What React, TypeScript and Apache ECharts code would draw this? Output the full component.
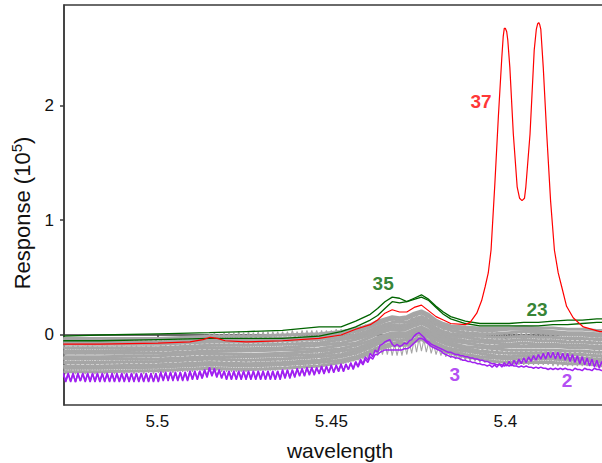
import React, { useEffect, useRef } from "react";
import * as echarts from "echarts";

const W = 602;
const H = 463;

const RED = "#ff0000";
const GREEN = "#006400";
const PURPLE = "#a020f0";
const GRAY = "#a6a6a6";
const AXIS = "#3a3a3a";
const FONT = "'Liberation Sans', Arial, Helvetica, sans-serif";

// all responses below are stored in hundredths of 10^5
const SCALE = 0.01;

// axis ticks
const X_TICKS = [5.5, 5.45, 5.4];
const Y_TICKS = [0, 1, 2];

// wavelengths of the knots used by the smoother traces
const KNOT_WL = [
  5.527, 5.5165, 5.4997, 5.485, 5.4745, 5.464, 5.4535, 5.4472, 5.443, 5.4388,
  5.4367, 5.4346, 5.4325, 5.4304, 5.4283, 5.4262, 5.4241, 5.422, 5.4199, 5.4178,
  5.4157, 5.4115, 5.4073, 5.4031, 5.3989, 5.3947, 5.3905, 5.3863, 5.3821, 5.3779,
  5.3737, 5.3716,
];

// sample 35 and sample 23 (dark green)
const SAMPLE_35 = [
  -1, 0, 1, 2, 3, 4, 7, 7, 12, 18, 23, 29, 33, 32, 29, 32, 35, 31, 25, 20, 16, 12,
  10, 10, 10, 11, 11, 12, 13, 13, 14, 14,
];
const SAMPLE_23 = [
  -5, -5, -4, -3, -3, -3, -1, 3, 7, 13, 17, 23, 29, 28, 29, 31, 33, 30, 24, 18, 14,
  10, 8, 8, 8, 8, 8, 9, 9, 10, 11, 11,
];

// the bulk of the spectra (grey), one row per sample
const GRAY_SPECTRA = [
  [-3, -3, -3, -1, -1, 0, 1, 3, 5, 9, 12, 14, 16, 15, 16, 19, 21, 18, 13, 10, 8, 7, 6, 6, 6, 7, 6, 6, 5, 5, 4, 4],
  [-6, -6, -6, -4, -4, -3, -2, 1, 3, 7, 10, 12, 14, 13, 14, 17, 19, 16, 11, 8, 6, 5, 4, 4, 5, 5, 4, 3, 2, 2, 1, 1],
  [-8, -8, -8, -6, -6, -5, -4, -2, 0, 4, 7, 9, 11, 11, 11, 14, 16, 13, 9, 6, 4, 2, 1, 1, 2, 3, 2, 1, 0, 0, -1, -1],
  [-11, -11, -11, -9, -9, -8, -7, -4, -2, 2, 5, 7, 9, 8, 9, 12, 14, 11, 6, 3, 1, 0, -1, -2, -2, -1, -2, -2, -3, -3, -4, -4],
  [-14, -14, -13, -11, -12, -11, -9, -7, -4, 0, 3, 5, 7, 6, 7, 10, 12, 9, 4, 1, -1, -2, -4, -5, -5, -4, -5, -5, -6, -6, -7, -7],
  [-16, -16, -16, -14, -14, -13, -12, -9, -7, -2, 1, 3, 5, 4, 5, 8, 10, 7, 2, -1, -3, -5, -6, -7, -8, -7, -8, -8, -9, -9, -10, -10],
  [-19, -19, -18, -16, -17, -16, -14, -12, -9, -5, -2, 0, 2, 2, 2, 5, 7, 4, 0, -3, -5, -7, -9, -10, -10, -10, -10, -10, -11, -11, -12, -12],
  [-21, -21, -21, -19, -19, -18, -17, -14, -12, -7, -4, -2, 0, 0, 0, 3, 5, 2, -2, -5, -7, -10, -11, -12, -13, -13, -13, -13, -14, -14, -15, -15],
  [-24, -24, -23, -21, -22, -21, -19, -17, -14, -9, -6, -4, -2, -2, -2, 1, 3, 0, -4, -7, -9, -12, -14, -15, -16, -16, -16, -16, -17, -17, -18, -18],
  [-27, -27, -26, -24, -25, -24, -22, -19, -16, -11, -8, -6, -4, -5, -4, -1, 1, -2, -7, -10, -12, -14, -16, -18, -19, -18, -19, -19, -20, -20, -21, -21],
  [-29, -29, -28, -26, -27, -26, -24, -22, -19, -14, -11, -9, -7, -7, -7, -4, -2, -5, -9, -12, -14, -17, -19, -20, -21, -21, -21, -21, -22, -22, -23, -23],
  [-32, -32, -31, -29, -30, -29, -27, -24, -21, -16, -13, -11, -9, -9, -9, -6, -4, -7, -11, -14, -16, -19, -21, -23, -24, -24, -24, -24, -25, -25, -26, -26],
];

// sample 37 (red), with its own wavelengths
const SAMPLE_37_WL = [
  5.527, 5.5165, 5.4998, 5.4906, 5.4869, 5.4848, 5.4828, 5.4805, 5.4745, 5.464,
  5.4535, 5.4472, 5.443, 5.4388, 5.4367, 5.4346, 5.4325, 5.4304, 5.4283, 5.4262,
  5.4241, 5.422, 5.4199, 5.4178, 5.4157, 5.4115, 5.4101, 5.4082, 5.4068, 5.4058,
  5.4049, 5.4041, 5.403, 5.402, 5.401, 5.4006, 5.4003, 5.4, 5.3996, 5.3993,
  5.3987, 5.3977, 5.3966, 5.3959, 5.3952, 5.3945, 5.3941, 5.3929, 5.3917, 5.3911,
  5.3907, 5.3904, 5.3901, 5.3898, 5.3891, 5.3881, 5.387, 5.3859, 5.3848, 5.3838,
  5.3824, 5.3805, 5.3776, 5.3728, 5.3716,
];
const SAMPLE_37 = [
  -8, -8, -7, -6, -4, -2, -3, -5, -6, -5,
  -3, 0, 5, 9, 13, 19, 22, 20, 20, 24,
  26, 21, 16, 13, 10, 9, 11, 19, 30, 42,
  54, 74, 132, 190, 242, 260, 267, 267, 264, 257,
  233, 175, 129, 119, 117, 119, 129, 175, 248, 266,
  271, 272, 270, 266, 233, 175, 117, 74, 54, 42,
  25, 15, 7, 3, 3,
];

// fully sampled spectra: first wavelength and spacing of the scan
const SCAN_START = 5.527;
const SCAN_STEP = 0.0007;

// sample 2 (purple)
const SAMPLE_2 = [
  -33, -41, -34, -40, -33, -41, -33, -40, -34, -41,
  -33, -40, -33, -41, -34, -40, -33, -41, -33, -40,
  -34, -41, -33, -40, -33, -41, -34, -40, -33, -41,
  -33, -40, -34, -41, -33, -40, -33, -41, -34, -40,
  -32, -40, -33, -39, -32, -40, -32, -39, -33, -40,
  -32, -39, -31, -39, -32, -38, -31, -37, -30, -36,
  -28, -35, -29, -36, -31, -38, -31, -39, -32, -39,
  -31, -39, -32, -38, -31, -39, -31, -38, -32, -39,
  -31, -38, -31, -39, -32, -38, -31, -38, -31, -39,
  -31, -38, -31, -37, -30, -36, -30, -36, -29, -35,
  -29, -35, -29, -34, -28, -34, -28, -33, -27, -33,
  -27, -32, -27, -32, -26, -31, -25, -30, -25, -29,
  -23, -27, -21, -25, -19, -22, -16, -19, -13, -15,
  -9, -8, -6, -5, -4, -8, -10, -8, -10, -9,
  -7, -8, -5, -4, -1, 1, 2, 0, -2, -5,
  -6, -8, -9, -10, -11, -12, -13, -14, -15, -15,
  -16, -17, -17, -18, -18, -19, -19, -20, -20, -21,
  -21, -22, -22, -23, -23, -24, -25, -25, -26, -26,
  -26, -27, -26, -27, -26, -27, -27, -28, -27, -28,
  -27, -28, -28, -29, -28, -29, -28, -29, -29, -30,
  -29, -30, -29, -30, -29, -30, -29, -30, -30, -31,
  -29, -30, -30, -31, -29, -30, -30, -31, -29, -30,
  -30, -31, -30,
];

// sample 3 (purple)
const SAMPLE_3 = [
  -34, -40, -33, -41, -34, -41, -34, -40, -33, -40,
  -34, -41, -34, -40, -33, -41, -34, -40, -34, -41,
  -33, -40, -34, -41, -34, -40, -33, -41, -34, -40,
  -34, -41, -33, -40, -34, -41, -34, -40, -33, -41,
  -33, -39, -32, -40, -33, -39, -33, -40, -32, -39,
  -33, -40, -32, -38, -31, -39, -32, -38, -31, -37,
  -29, -36, -30, -37, -30, -37, -32, -38, -31, -38,
  -32, -38, -31, -39, -32, -38, -32, -39, -31, -38,
  -32, -39, -32, -38, -31, -39, -32, -39, -32, -38,
  -30, -37, -30, -38, -31, -37, -29, -35, -30, -36,
  -28, -34, -28, -35, -29, -33, -27, -34, -28, -32,
  -26, -33, -26, -31, -25, -32, -26, -30, -24, -30,
  -24, -28, -23, -26, -21, -24, -19, -21, -17, -17,
  -15, -14, -13, -13, -13, -13, -13, -13, -13, -13,
  -12, -12, -11, -9, -7, -5, -3, -3, -4, -6,
  -8, -10, -11, -12, -13, -14, -16, -17, -18, -19,
  -19, -20, -20, -21, -22, -22, -23, -23, -24, -24,
  -25, -25, -26, -26, -27, -26, -28, -26, -28, -25,
  -28, -24, -27, -23, -27, -22, -26, -21, -25, -20,
  -24, -19, -23, -18, -22, -17, -21, -16, -21, -15,
  -20, -15, -21, -15, -21, -16, -22, -16, -23, -17,
  -24, -18, -25, -19, -26, -20, -27, -21, -28, -22,
  -29, -23, -29,
];

// fully sampled grey spectra
const GRAY_SCANS = [
  [
    -3, -9, -4, -8, -3, -9, -3, -8, -4, -9,
    -3, -8, -3, -9, -4, -8, -3, -9, -3, -8,
    -4, -9, -3, -8, -3, -9, -4, -8, -3, -9,
    -3, -8, -4, -9, -3, -8, -3, -9, -4, -8,
    -3, -9, -2, -8, -3, -8, -2, -8, -2, -7,
    -2, -7, -1, -7, -1, -6, -1, -6, 0, -6,
    1, -5, 2, -5, 1, -5, 2, -5, 2, -5,
    2, -5, 3, -4, 2, -5, 3, -4, 2, -4,
    3, -4, 3, -4, 3, -4, 3, -4, 3, -4,
    3, -4, 3, -4, 4, -3, 3, -4, 4, -3,
    4, -3, 4, -3, 4, -3, 4, -3, 4, -3,
    4, -2, 5, -2, 5, -1, 5, -1, 6, 0,
    7, 1, 8, 2, 9, 4, 10, 5, 12, 7,
    13, 9, 14, 11, 15, 12, 14, 11, 14, 12,
    15, 13, 17, 14, 18, 16, 19, 17, 18, 15,
    16, 12, 13, 9, 10, 7, 8, 5, 7, 4,
    6, 3, 5, 2, 5, 1, 4, 0, 4, -1,
    3, -2, 3, -2, 3, -3, 3, -3, 3, -3,
    2, -3, 2, -3, 2, -3, 2, -3, 2, -3,
    2, -3, 2, -3, 2, -3, 2, -3, 2, -3,
    1, -4, 1, -4, 1, -4, 1, -4, 1, -4,
    1, -4, 1, -4, 1, -4, 1, -4, 1, -4,
    1, -4, 1,
  ],
  [
    -9, -17, -10, -16, -9, -17, -9, -16, -10, -17,
    -9, -16, -9, -17, -10, -16, -9, -17, -9, -16,
    -10, -17, -9, -16, -9, -17, -10, -16, -9, -17,
    -9, -16, -10, -17, -9, -16, -9, -17, -10, -16,
    -8, -16, -8, -15, -8, -16, -8, -15, -8, -15,
    -7, -15, -7, -15, -7, -14, -7, -14, -6, -14,
    -6, -14, -7, -15, -7, -15, -7, -15, -7, -15,
    -7, -15, -7, -15, -7, -14, -7, -15, -6, -14,
    -6, -14, -6, -14, -6, -14, -6, -14, -6, -13,
    -5, -13, -5, -13, -5, -12, -4, -12, -4, -12,
    -3, -11, -3, -11, -3, -10, -2, -10, -2, -9,
    -1, -9, 0, -8, 0, -7, 1, -6, 2, -5,
    3, -4, 4, -2, 6, 0, 8, 1, 9, 3,
    10, 4, 11, 5, 11, 5, 10, 4, 10, 4,
    11, 5, 12, 6, 13, 7, 14, 8, 13, 7,
    11, 5, 9, 3, 7, 1, 5, -1, 4, -3,
    3, -4, 2, -5, 1, -6, 0, -7, 0, -7,
    -1, -8, -1, -8, -2, -9, -2, -9, -2, -9,
    -2, -10, -2, -10, -2, -10, -2, -10, -2, -10,
    -2, -10, -2, -10, -2, -10, -2, -10, -2, -10,
    -3, -11, -3, -11, -3, -11, -3, -11, -3, -11,
    -3, -11, -3, -11, -3, -11, -3, -11, -3, -11,
    -3, -11, -3,
  ],
  [
    -19, -27, -20, -26, -19, -27, -19, -26, -20, -27,
    -19, -26, -19, -27, -20, -26, -19, -27, -19, -26,
    -20, -27, -19, -26, -19, -27, -20, -26, -19, -27,
    -19, -26, -20, -27, -19, -26, -19, -27, -20, -26,
    -18, -26, -18, -25, -18, -26, -18, -25, -18, -25,
    -17, -25, -17, -25, -17, -24, -16, -24, -16, -23,
    -16, -23, -17, -24, -17, -25, -17, -25, -18, -25,
    -17, -25, -17, -25, -17, -25, -17, -24, -17, -24,
    -16, -24, -16, -24, -16, -24, -16, -24, -16, -23,
    -15, -23, -15, -23, -15, -22, -14, -22, -14, -22,
    -13, -21, -13, -21, -13, -20, -12, -20, -12, -19,
    -11, -19, -11, -18, -10, -18, -10, -17, -9, -16,
    -8, -15, -7, -13, -5, -11, -4, -10, -2, -8,
    -1, -7, 0, -6, 0, -6, -1, -7, -1, -7,
    0, -6, 1, -5, 2, -4, 3, -3, 2, -4,
    0, -6, -2, -8, -4, -10, -5, -11, -6, -13,
    -7, -14, -8, -15, -9, -16, -10, -17, -10, -17,
    -11, -18, -11, -18, -12, -19, -12, -19, -12, -19,
    -12, -20, -12, -20, -12, -20, -12, -20, -12, -20,
    -12, -20, -12, -20, -12, -20, -12, -20, -12, -20,
    -13, -21, -13, -21, -13, -21, -13, -21, -13, -21,
    -13, -21, -13, -21, -13, -21, -13, -21, -13, -21,
    -13, -21, -13,
  ],
  [
    -26, -34, -27, -33, -26, -34, -26, -33, -27, -34,
    -26, -33, -26, -34, -27, -33, -26, -34, -26, -33,
    -27, -34, -26, -33, -26, -34, -27, -33, -26, -34,
    -26, -33, -27, -34, -26, -33, -26, -34, -27, -33,
    -25, -33, -25, -32, -25, -33, -25, -32, -25, -32,
    -24, -32, -24, -32, -24, -31, -23, -31, -23, -30,
    -23, -30, -24, -31, -24, -32, -24, -32, -25, -32,
    -24, -32, -24, -32, -24, -32, -24, -31, -24, -31,
    -23, -31, -23, -31, -23, -31, -23, -31, -23, -30,
    -22, -30, -22, -30, -22, -29, -21, -29, -21, -29,
    -21, -28, -20, -28, -20, -27, -19, -27, -19, -26,
    -18, -26, -18, -25, -17, -25, -16, -24, -15, -23,
    -14, -22, -13, -21, -11, -20, -10, -19, -9, -18,
    -8, -17, -7, -17, -7, -18, -8, -18, -8, -18,
    -7, -17, -6, -16, -4, -15, -3, -14, -4, -15,
    -6, -16, -8, -17, -10, -18, -11, -19, -12, -20,
    -13, -21, -14, -22, -15, -22, -16, -23, -16, -23,
    -17, -24, -17, -24, -18, -25, -18, -25, -19, -26,
    -19, -26, -19, -26, -19, -26, -19, -26, -19, -26,
    -19, -26, -19, -26, -19, -26, -19, -26, -19, -26,
    -20, -27, -20, -27, -20, -27, -20, -27, -20, -27,
    -20, -27, -20, -27, -20, -27, -20, -27, -20, -28,
    -20, -28, -21,
  ],
];

// sample numbers written beside their traces
const LABEL_TEXT = ["37", "35", "23", "3", "2"];
const LABEL_WL = [5.407, 5.4351, 5.3909, 5.4145, 5.3823];
const LABEL_VAL = [2.035, 0.452, 0.226, -0.348, -0.4];
const LABEL_COLOR = [RED, GREEN, GREEN, PURPLE, PURPLE];

const X_MIN = 5.3682;
const X_MAX = 5.5268;
const Y_MIN = -0.6095;
const Y_MAX = 2.873;

function lineSeries(points: number[][], color: string, width: number, z: number) {
  return {
    type: "line",
    data: points,
    showSymbol: false,
    symbol: "none",
    silent: true,
    animation: false,
    z,
    lineStyle: { color, width },
    itemStyle: { color },
  };
}

const onKnots = (vals: number[]) => vals.map((v, i) => [KNOT_WL[i], v * SCALE]);
const onScan = (vals: number[]) =>
  vals.map((v, i) => [+(SCAN_START - SCAN_STEP * i).toFixed(5), v * SCALE]);

export default function App() {
  const ref = useRef<HTMLDivElement>(null);

  useEffect(() => {
    document.body.style.margin = "0";
    const chart = echarts.init(ref.current!, null, { renderer: "svg" });

    const series: any[] = [];
    GRAY_SPECTRA.forEach((s) => series.push(lineSeries(onKnots(s), GRAY, 3, 1)));
    GRAY_SCANS.forEach((s) => series.push(lineSeries(onScan(s), GRAY, 1.1, 1)));
    series.push(lineSeries(onScan(SAMPLE_3), PURPLE, 1.5, 2));
    series.push(lineSeries(onScan(SAMPLE_2), PURPLE, 1.5, 2));
    series.push(lineSeries(onKnots(SAMPLE_23), GREEN, 1.3, 3));
    series.push(lineSeries(onKnots(SAMPLE_35), GREEN, 1.3, 3));
    series.push(
      lineSeries(
        SAMPLE_37.map((v, i) => [SAMPLE_37_WL[i], v * SCALE]),
        RED,
        1.2,
        4
      )
    );
    series.push({
      type: "scatter",
      silent: true,
      animation: false,
      z: 10,
      symbolSize: 1,
      itemStyle: { color: "transparent" },
      data: LABEL_TEXT.map((t, i) => ({
        value: [LABEL_WL[i], LABEL_VAL[i]],
        label: {
          show: true,
          position: "inside",
          formatter: t,
          color: LABEL_COLOR[i],
          fontSize: 19,
          fontWeight: "bold",
          fontFamily: FONT,
        },
      })),
    });

    const axisLine = { show: true, lineStyle: { color: AXIS, width: 1.5 } };
    const axisTick = { show: true, length: 4, inside: false, lineStyle: { color: AXIS, width: 1.5 } };

    chart.setOption({
      animation: false,
      backgroundColor: "#ffffff",
      grid: {
        left: 64,
        top: 5,
        right: -14,
        bottom: 58,
        show: true,
        borderColor: AXIS,
        borderWidth: 1.5,
        backgroundColor: "transparent",
        outerBoundsMode: "none",
      },
      xAxis: {
        type: "value",
        inverse: true,
        min: X_MIN,
        max: X_MAX,
        axisLine,
        axisTick: { ...axisTick, customValues: X_TICKS },
        splitLine: { show: false },
        axisLabel: {
          customValues: X_TICKS,
          formatter: (v: number) => String(v),
          fontSize: 17,
          color: "#111",
          fontFamily: FONT,
          margin: 8,
        },
        name: "wavelength",
        nameLocation: "middle",
        nameGap: 35,
        nameTextStyle: { fontSize: 21, color: "#111", fontFamily: FONT },
      },
      yAxis: {
        type: "value",
        min: Y_MIN,
        max: Y_MAX,
        axisLine,
        axisTick: { ...axisTick, customValues: Y_TICKS },
        splitLine: { show: false },
        axisLabel: {
          customValues: Y_TICKS,
          formatter: (v: number) => String(v),
          fontSize: 17,
          color: "#111",
          fontFamily: FONT,
          margin: 10,
        },
        name: "{a|Response (10}{s|5}{a|)}",
        nameLocation: "middle",
        nameRotate: 90,
        nameGap: 27,
        nameTextStyle: {
          color: "#111",
          fontFamily: FONT,
          padding: [0, 16, 0, 0],
          rich: {
            a: { fontSize: 22, color: "#111", fontFamily: FONT },
            s: { fontSize: 15, color: "#111", fontFamily: FONT, padding: [0, 0, 13, 0] },
          },
        },
      },
      series,
    });

    return () => chart.dispose();
  }, []);

  return <div ref={ref} style={{ width: W, height: H }} />;
}
